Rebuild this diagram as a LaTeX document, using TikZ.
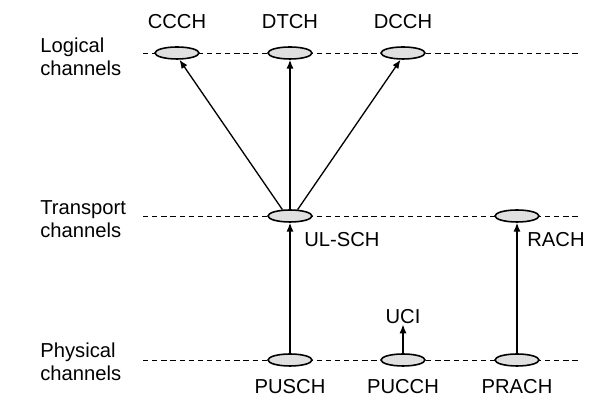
\documentclass[tikz,border=0pt]{standalone}
\usepackage{fontspec}
\setmainfont{Liberation Sans}
\usepackage{tikz}
\usetikzlibrary{shapes.geometric,arrows.meta}

\begin{document}
\begin{tikzpicture}[x=0.02cm,y=-0.02cm]
\tikzstyle{every node}+=[inner sep=0pt,font=\fontsize{11.5}{13}\selectfont]
\tikzstyle{chan}=[draw,ellipse,fill=black!12,line width=0.9pt,minimum width=0.88cm,minimum height=0.24cm]
\tikzstyle{level}=[dashed,dash pattern=on 3pt off 2.2pt,line width=0.5pt]
\tikzstyle{map}=[-{Latex[length=5pt,width=4pt]},line width=0.75pt]
\useasboundingbox (0,0) rectangle (606,404);
% levels
\coordinate (lgA) at (143,53);
\coordinate (lgB) at (580,53);
\coordinate (trA) at (143,216);
\coordinate (trB) at (580,216);
\coordinate (phA) at (143,360);
\coordinate (phB) at (580,360);
\draw [level] (lgA) -- (lgB);
\draw [level] (trA) -- (trB);
\draw [level] (phA) -- (phB);
\node [anchor=west,align=left] (lglab) at (40,57) {Logical\\channels};
\node [anchor=west,align=left] (trlab) at (40,219) {Transport\\channels};
\node [anchor=west,align=left] (phlab) at (40,362) {Physical\\channels};
% logical channels
\node [chan] (ccch) at (177,53) {};
\node (ccchlab) at (177,22) {CCCH};
\node [chan] (dtch) at (290,53) {};
\node (dtchlab) at (290,22) {DTCH};
\node [chan] (dcch) at (403,53) {};
\node (dcchlab) at (403,22) {DCCH};
% transport channels
\node [chan] (ulsch) at (290,216) {};
\node [anchor=west] (ulschlab) at (304,240) {UL-SCH};
\node [chan] (rach) at (517,216) {};
\node [anchor=west] (rachlab) at (527,240) {RACH};
% physical channels
\node [chan] (pusch) at (290,360) {};
\node (puschlab) at (290,387) {PUSCH};
\node [chan] (pucch) at (403,360) {};
\node (pucchlab) at (403,387) {PUCCH};
\node [chan] (prach) at (517,360) {};
\node (prachlab) at (517,387) {PRACH};
\node (uci) at (403,317) {UCI};
% mappings
\draw [map] (ulsch.140) -- (ccch.-70);
\draw [map] (ulsch) -- (dtch);
\draw [map] (ulsch.40) -- (dcch.-110);
\draw [map] (pusch) -- (ulsch);
\draw [map] (prach) -- (rach);
\draw [map] (pucch) -- (uci);
\end{tikzpicture}
\end{document}
